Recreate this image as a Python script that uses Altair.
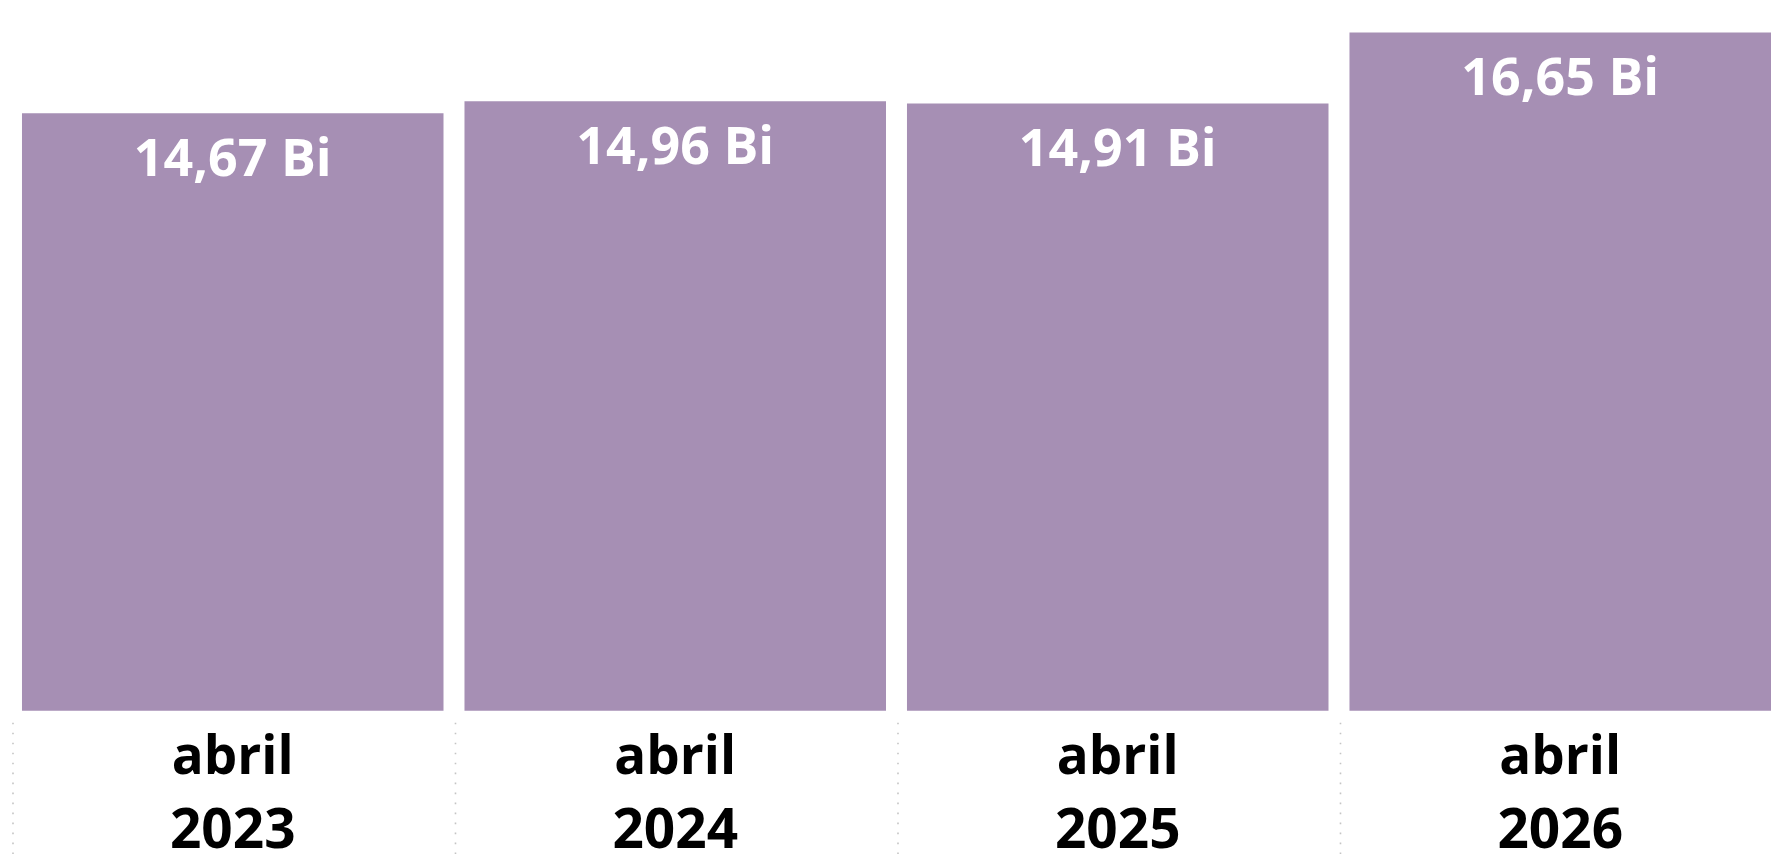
import altair as alt
import pandas as pd

months = ["abril", "abril", "abril", "abril"]
years = ["2023", "2024", "2025", "2026"]
values = [14.67, 14.96, 14.91, 16.65]

df = pd.DataFrame({
    "mes": months,
    "ano": years,
    "valor": values,
})
df["cat"] = df["mes"] + " " + df["ano"]

W = 1751
H = 703
FONT = "Open Sans"
BAR_COLOR = "#A68FB4"

x_enc = alt.X(
    "cat:N",
    sort=None,
    axis=None,
    scale=alt.Scale(paddingInner=21 / 443, paddingOuter=0),
)
y_scale = alt.Scale(domain=[0, 17.24], nice=False, zero=True)

base = alt.Chart(df)

bars = base.mark_bar(color=BAR_COLOR).encode(
    x=x_enc,
    y=alt.Y("valor:Q", axis=None, scale=y_scale),
)

value_labels = base.transform_calculate(
    lbl="replace(format(datum.valor, '.2f'), '.', ',') + ' Bi'"
).mark_text(
    font=FONT, fontWeight="bold", fontSize=52, color="white",
    baseline="alphabetic", align="center", dy=63,
).encode(
    x=x_enc,
    y=alt.Y("valor:Q", scale=y_scale),
    text="lbl:N",
)

month_labels = base.mark_text(
    font=FONT, fontWeight="bold", fontSize=53, color="black",
    baseline="alphabetic", align="center",
).encode(
    x=x_enc,
    y=alt.value(H + 63),
    text="mes:N",
)

year_labels = base.mark_text(
    font=FONT, fontWeight="bold", fontSize=55, color="black",
    baseline="alphabetic", align="center",
).encode(
    x=x_enc,
    y=alt.value(H + 137),
    text="ano:N",
)

separators = base.mark_rule(
    color="#C4C4C4", strokeWidth=1.6, strokeDash=[1.6, 8.4], xOffset=-9,
).encode(
    x=alt.X("cat:N", sort=None, axis=None, bandPosition=0,
            scale=alt.Scale(paddingInner=21 / 443, paddingOuter=0)),
    y=alt.value(H + 12),
    y2=alt.value(H + 160),
)

chart = alt.layer(separators, bars, value_labels, month_labels, year_labels).properties(
    width=W,
    height=H,
    autosize=alt.AutoSizeParams(type="none"),
    padding={"left": 14, "top": 0, "right": 0, "bottom": 150},
).configure_view(stroke=None)

chart.save("out.html", embed_options={"renderer": "svg", "actions": False})
